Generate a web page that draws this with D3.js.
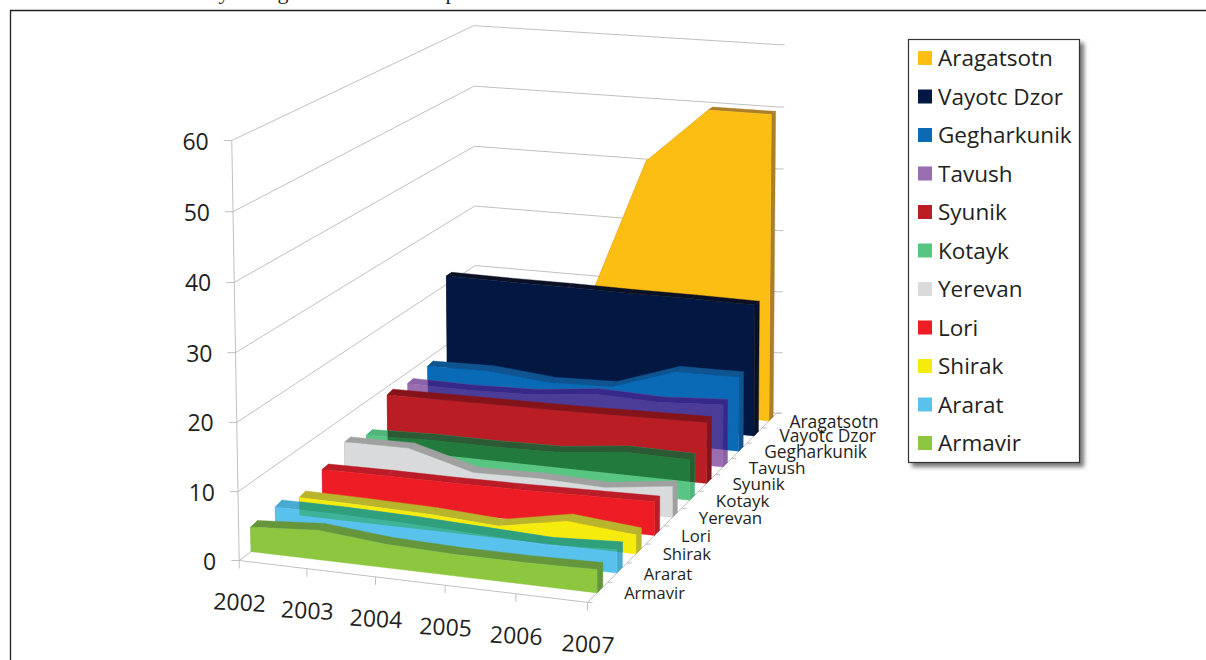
<!DOCTYPE html>
<html>
<head>
<meta charset="utf-8">
<script src="https://cdn.jsdelivr.net/npm/d3@7"></script>
<style>
  html, body { margin: 0; padding: 0; background: #fff; overflow: hidden; }
  svg { display: block; }
  text { font-family: "Open Sans", sans-serif; fill: #231f20; }
</style>
</head>
<body>
<svg id="chart" width="1206" height="660"></svg>
<script>
// Regions from the far side of the floor to the near side
const regions = ["Aragatsotn","Vayotc Dzor","Gegharkunik","Tavush","Syunik","Kotayk","Yerevan","Lori","Shirak","Ararat","Armavir"];
const years = [2002,2003,2004,2005,2006,2007];
const valueTicks = [0,10,20,30,40,50,60];

const aragatsotn  = [13,14,15.3,40.7,49.7,49.7];
const vayotcDzor  = [21.4,21.3,21.3,21.2,21.2,21.1];
const gegharkunik = [8.7,8.9,8,8.3,11.7,11.8];
const tavush      = [8.2,8.1,8.4,9.5,9.2,9.8];
const syunik      = [8.7,8.8,8.9,9,9.2,9.4];
const kotayk      = [4.7,5,5,5.2,6.3,6.2];
const yerevan     = [6.1,6.2,3.5,3.7,3.4,4.7];
const lori        = [4.4,4.5,4.5,4.6,4.8,5];
const shirak      = [2.7,2.6,2.4,1.8,3.7,2.8];
const ararat      = [3.9,3.9,3.7,3.3,2.9,3.4];
const armavir     = [3.6,4.3,3.4,3.1,3.1,3.3];
const seriesValues = [aragatsotn,vayotcDzor,gegharkunik,tavush,syunik,kotayk,yerevan,lori,shirak,ararat,armavir];

const faceColors  = ["#fdbe14","#021742","#0a6ab5","#9a6db0","#ba1e24","#58c682","#d9dadb","#ee1c25","#f5eb0d","#58c2ec","#8dc63f"];
const edgeColors  = ["#ab7f2a","#0b1024","#0f5390","#8a62a6","#85141a","#4fb57b","#a0a0a0","#bb1c28","#b8b42c","#4aa9d0","#66963c"];
// Tint of the see-through regions where they cross the ribbon just behind them
const crossFace   = [null,null,null,"#4b3c98",null,"#237a3d",null,null,null,"#3fb39a",null];
const crossEdge   = [null,null,null,"#37298a",null,"#2c5a34",null,null,null,"#2f9f7c",null];
// Extra height of each ribbon's rear top edge, in value units
const rearLift    = [0,0,0.2,0.15,0.25,0.2,0.1,0.1,0.25,0.3,0.2];

// Screen anchors of the plot box corners: [year index, depth 0..1, value, px, py]
const boxAnchors = [
  [0,0,0, 239.5,559],
  [0,0,60, 231,141],
  [5,0,0, 588,603.5],
  [0,1,0, 475,385],
  [0,1,60, 475,25],
  [5,1,0, 777,412],
  [5,1,60, 779,45]
];

// Fit a 3x4 perspective camera to the anchors by least squares
function fitCamera(anchors) {
  const rows = [], rhs = [];
  anchors.forEach(([x,d,v,px,py]) => {
    const X = x/5, Y = d, Z = v/60, u = px/1000, w = py/1000;
    rows.push([X,Y,Z,1,0,0,0,0,-u*X,-u*Y,-u*Z]); rhs.push(u);
    rows.push([0,0,0,0,X,Y,Z,1,-w*X,-w*Y,-w*Z]); rhs.push(w);
  });
  const n = 11;
  const M = d3.range(n).map(i => d3.range(n + 1).map(j =>
    j < n ? d3.sum(rows, r => r[i]*r[j]) : d3.sum(rows, (r,k) => r[i]*rhs[k])));
  for (let c = 0; c < n; c++) {
    let p = c;
    for (let r = c + 1; r < n; r++) if (Math.abs(M[r][c]) > Math.abs(M[p][c])) p = r;
    [M[c], M[p]] = [M[p], M[c]];
    for (let r = 0; r < n; r++) {
      if (r === c) continue;
      const f = M[r][c] / M[c][c];
      for (let j = c; j <= n; j++) M[r][j] -= f * M[c][j];
    }
  }
  return d3.range(n).map(i => M[i][n] / M[i][i]);
}
const cam = fitCamera(boxAnchors);

// World axes run through ordinary D3 scales before the camera is applied
const xScale = d3.scaleLinear().domain([2002,2007]).range([0,1]);
const depthScale = d3.scaleLinear().domain([0,regions.length]).range([0,1]);
const valueScale = d3.scaleLinear().domain([0,60]).range([0,1]);
const bandOf = i => regions.length - 1 - i;

function project(year, band, value) {
  const X = xScale(year), Y = depthScale(band), Z = valueScale(value);
  const h = cam[8]*X + cam[9]*Y + cam[10]*Z + 1;
  return [
    1000*(cam[0]*X + cam[1]*Y + cam[2]*Z + cam[3]) / h,
    1000*(cam[4]*X + cam[5]*Y + cam[6]*Z + cam[7]) / h
  ];
}

const svg = d3.select("#chart");
const defs = svg.append("defs");
const line = d3.line();
const closed = pts => line(pts) + "Z";
const grid = "#b9b9b9";

// Page furniture around the figure
svg.append("path").attr("d", "M10.5,660V10.5H1206").attr("fill","none").attr("stroke","#231f20").attr("stroke-width",1.3);
const captionLetters = [["y",224],["g",283],["p",451]];
svg.selectAll("text.caption").data(captionLetters).join("text").attr("class","caption")
  .attr("x", d => d[1]).attr("y", -1).attr("text-anchor","middle")
  .style("font-family","'Liberation Serif',serif").style("font-size","22px").text(d => d[0]);

// Wall gridlines, axes and tick marks
const axisG = svg.append("g").attr("fill","none").attr("stroke",grid).attr("stroke-width",0.9);
valueTicks.forEach(v => {
  axisG.append("path").attr("d", line([project(2002,0,v), project(2002,regions.length,v), project(2007,regions.length,v)]));
  const a = project(2002,0,v);
  axisG.append("path").attr("d", line([[a[0]-8,a[1]], a]));
  const b = project(2007,regions.length,v);
  axisG.append("path").attr("d", line([b,[b[0]+5,b[1]]]));
});
axisG.append("path").attr("d", line([project(2002,0,0), project(2002,0,60)]));
axisG.append("path").attr("d", line([project(2002,0,0), project(2007,0,0), project(2007,regions.length,0)]));
years.forEach(y => {
  const a = project(y,0,0);
  axisG.append("path").attr("d", line([a,[a[0],a[1]+8]]));
});
d3.range(regions.length + 1).forEach(i => {
  const a = project(2007,i,0);
  axisG.append("path").attr("d", line([a,[a[0]+5,a[1]]]));
});

// The solid shapes of one region's ribbon: top quads, two ends, front face
const frontInset = 0.47, backInset = 0.76;
function ribbonShapes(i) {
  const values = seriesValues[i];
  const df = bandOf(i) + frontInset, db = bandOf(i) + backInset;
  const frontTop = years.map((y,k) => project(y,df,values[k]));
  const backTop  = years.map((y,k) => project(y,db,values[k] + rearLift[i]));
  const edges = d3.pairs(d3.range(years.length)).map(([a,b]) => closed([frontTop[a],frontTop[b],backTop[b],backTop[a]]));
  edges.push(closed([frontTop[0],backTop[0],project(2002,db,0),project(2002,df,0)]));
  edges.push(closed([frontTop[5],backTop[5],project(2007,db,0),project(2007,df,0)]));
  const face = closed([...frontTop, project(2007,df,0), project(2002,df,0)]);
  return { edges, face };
}
function paintRibbon(g, shapes, face, edge) {
  shapes.edges.forEach(d => g.append("path").attr("d", d).attr("fill", edge).attr("stroke", edge).attr("stroke-width",0.4));
  g.append("path").attr("d", shapes.face).attr("fill", face).attr("stroke", face).attr("stroke-width",0.4);
}

// Back region first, so nearer ones paint over it
regions.forEach((name, i) => {
  const shapes = ribbonShapes(i);
  paintRibbon(svg.append("g").attr("class","ribbon"), shapes, faceColors[i], edgeColors[i]);
  if (crossFace[i]) {
    const behind = ribbonShapes(i - 1);
    const clip = defs.append("clipPath").attr("id", `behind-${i}`);
    [...behind.edges, behind.face].forEach(d => clip.append("path").attr("d", d));
    paintRibbon(svg.append("g").attr("class","ribbon-cross").attr("clip-path", `url(#behind-${i})`), shapes, crossFace[i], crossEdge[i]);
  }
});

// Value labels
svg.selectAll("text.vlabel").data(valueTicks).join("text").attr("class","vlabel")
  .attr("x", v => project(2002,0,v)[0]-23).attr("y", v => project(2002,0,v)[1]+9)
  .attr("text-anchor","end").style("font-size","23px").text(v => v);

// Year labels, tilted along the front edge
svg.selectAll("text.xlabel").data(years).join("text").attr("class","xlabel")
  .attr("transform", y => { const p = project(y,0,0); return `translate(${p[0]},${p[1]+50}) rotate(3)`; })
  .attr("text-anchor","middle").style("font-size","23px").text(y => y);

// Region labels along the right floor edge
const labelGap = d3.scaleLinear().domain([0,1,10]).range([20,25,26.5]);
const labelSize = d3.scaleLinear().domain([0,10]).range([17.5,16.5]);
svg.selectAll("text.dlabel").data(regions).join("text").attr("class","dlabel")
  .attr("x", (r,i) => project(2007,bandOf(i)+0.5,0)[0] + labelGap(i))
  .attr("y", (r,i) => project(2007,bandOf(i)+0.5,0)[1] + 7)
  .style("font-size",(r,i) => `${labelSize(i)}px`).text(r => r);

// Legend
defs.append("filter").attr("id","legendShadow").attr("x","-10%").attr("y","-10%").attr("width","120%").attr("height","120%")
  .append("feDropShadow").attr("dx",4).attr("dy",4).attr("stdDeviation",2).attr("flood-color","#555").attr("flood-opacity",0.8);
svg.append("rect").attr("x",908.5).attr("y",39.5).attr("width",171).attr("height",423)
  .attr("fill","#fff").attr("stroke","#333").attr("stroke-width",1.2).attr("filter","url(#legendShadow)");
const legendY = d3.scalePoint().domain(regions).range([58,443]);
const legend = svg.selectAll("g.legend").data(regions).join("g").attr("class","legend")
  .attr("transform", r => `translate(0,${legendY(r)})`);
legend.append("rect").attr("x",918).attr("y",-7).attr("width",14).attr("height",14).attr("fill",(r,i)=>faceColors[i]);
legend.append("text").attr("x",938).attr("y",8).style("font-size","22.5px").text(r => r);
</script>
</body>
</html>
